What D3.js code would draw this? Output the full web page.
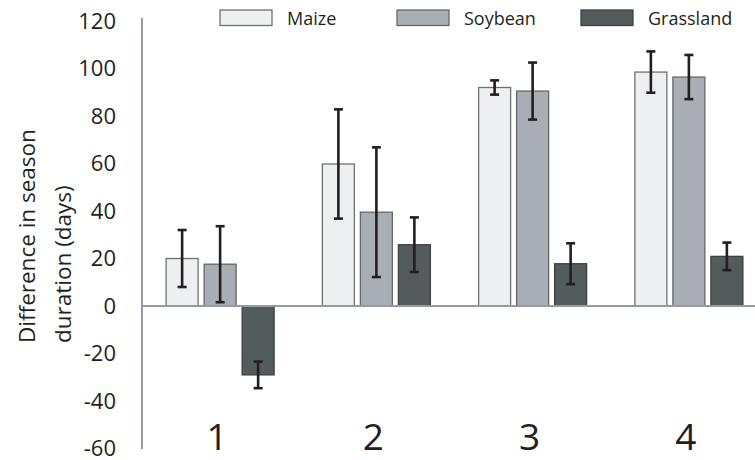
<!DOCTYPE html>
<html lang="en">
<head>
    <meta charset="UTF-8">
    <title>Season duration</title>
    <style>
        body {
            margin: 0;
            background: #fff;
        }
        svg {
            display: block;
            font-family: "Open Sans", sans-serif;
        }
    </style>
</head>
<body>
    <script src="https://d3js.org/d3.v7.min.js"></script>
    <script>
        const groups = ['1', '2', '3', '4']
        const seriesNames = ['Maize', 'Soybean', 'Grassland']
        const maize = [20, 59.8, 92, 98.5]
        const maizeErr = [12, 23, 3, 8.7]
        const soybean = [17.6, 39.5, 90.5, 96.4]
        const soybeanErr = [16, 27.3, 12, 9.3]
        const grassland = [-29, 25.8, 17.8, 20.9]
        const grasslandErr = [5.6, 11.5, 8.6, 5.8]
        const yTicks = [-60, -40, -20, 0, 20, 40, 60, 80, 100, 120]

        const width = 755
        const height = 460
        const colors = ['#eeeff1', '#a9aeb4', '#535b5c']
        const strokes = ['#6e7174', '#64686c', '#3c4243']

        const values = [maize, soybean, grassland]
        const errors = [maizeErr, soybeanErr, grasslandErr]

        // one row per bar
        const bars = []
        seriesNames.forEach((s, si) => {
            groups.forEach((g, gi) => {
                bars.push({ group: g, series: s, si: si, value: values[si][gi], err: errors[si][gi] })
            })
        })

        const svg = d3.select('body')
            .append('svg')
            .attr('width', width)
            .attr('height', height)

        const x0 = d3.scaleBand()
            .domain(groups)
            .range([142, 767])

        const x1 = d3.scaleBand()
            .domain(seriesNames)
            .range([-54, 54])
            .paddingInner(0.158)

        const y = d3.scaleLinear()
            .domain([-60, 120])
            .range([448.5, 21])

        const center = g => x0(g) + x0.bandwidth() / 2

        // y axis, plain hyphen for negatives
        const yAxis = d3.axisLeft(y)
            .tickValues(yTicks)
            .tickFormat(d => String(d))
            .tickSize(0)
            .tickPadding(26)

        const ag = svg.append('g')
            .attr('transform', 'translate(142,0)')
            .call(yAxis)
        ag.select('.domain')
            .attr('stroke', '#959ba2')
            .attr('stroke-width', 2)
            .attr('d', `M0,18V449`)
        ag.selectAll('text')
            .attr('font-family', '"Open Sans", sans-serif')
            .attr('font-size', 22)
            .attr('fill', '#231f20')

        // axis title
        const title = svg.append('text')
            .attr('transform', 'translate(35,343) rotate(-90)')
            .attr('font-size', 22.5)
            .attr('fill', '#231f20')
        title.append('tspan').attr('x', 0).attr('y', 0).text('Difference in season')
        title.append('tspan').attr('x', 0).attr('y', 36).text('duration (days)')

        // bars
        svg.selectAll('rect.bar')
            .data(bars)
            .enter()
            .append('rect')
            .attr('class', 'bar')
            .attr('x', d => center(d.group) + x1(d.series))
            .attr('width', x1.bandwidth())
            .attr('y', d => y(Math.max(0, d.value)))
            .attr('height', d => Math.abs(y(d.value) - y(0)))
            .attr('fill', d => colors[d.si])
            .attr('stroke', d => strokes[d.si])
            .attr('stroke-width', 1.3)

        // zero line
        svg.append('line')
            .attr('x1', 142)
            .attr('x2', width)
            .attr('y1', y(0))
            .attr('y2', y(0))
            .attr('stroke', '#959ba2')
            .attr('stroke-width', 2)

        // error bars
        const eb = svg.selectAll('g.err')
            .data(bars)
            .enter()
            .append('g')
            .attr('class', 'err')
            .attr('transform', d => `translate(${center(d.group) + x1(d.series) + x1.bandwidth() / 2},0)`)
            .attr('stroke', '#231f20')
            .attr('stroke-width', 2.6)

        eb.append('line')
            .attr('y1', d => y(d.value - d.err))
            .attr('y2', d => y(d.value + d.err))
        eb.append('line')
            .attr('x1', -4.5).attr('x2', 4.5)
            .attr('y1', d => y(d.value + d.err))
            .attr('y2', d => y(d.value + d.err))
        eb.append('line')
            .attr('x1', -4.5).attr('x2', 4.5)
            .attr('y1', d => y(d.value - d.err))
            .attr('y2', d => y(d.value - d.err))

        // group labels
        svg.selectAll('text.grp')
            .data(groups)
            .enter()
            .append('text')
            .attr('class', 'grp')
            .attr('x', d => center(d) - 3)
            .attr('y', 450)
            .attr('text-anchor', 'middle')
            .attr('font-size', 37)
            .attr('fill', '#231f20')
            .text(d => d)

        // legend
        const legendX = [220, 397, 581]
        const lg = svg.selectAll('g.legend')
            .data(seriesNames)
            .enter()
            .append('g')
            .attr('class', 'legend')
            .attr('transform', (_, i) => `translate(${legendX[i]},10)`)

        lg.append('rect')
            .attr('width', 52)
            .attr('height', 15.5)
            .attr('fill', (_, i) => colors[i])
            .attr('stroke', (_, i) => strokes[i])
            .attr('stroke-width', 1.3)

        lg.append('text')
            .attr('x', 67)
            .attr('y', 15)
            .attr('font-size', 18)
            .attr('fill', '#231f20')
            .text(d => d)
    </script>
</body>
</html>
